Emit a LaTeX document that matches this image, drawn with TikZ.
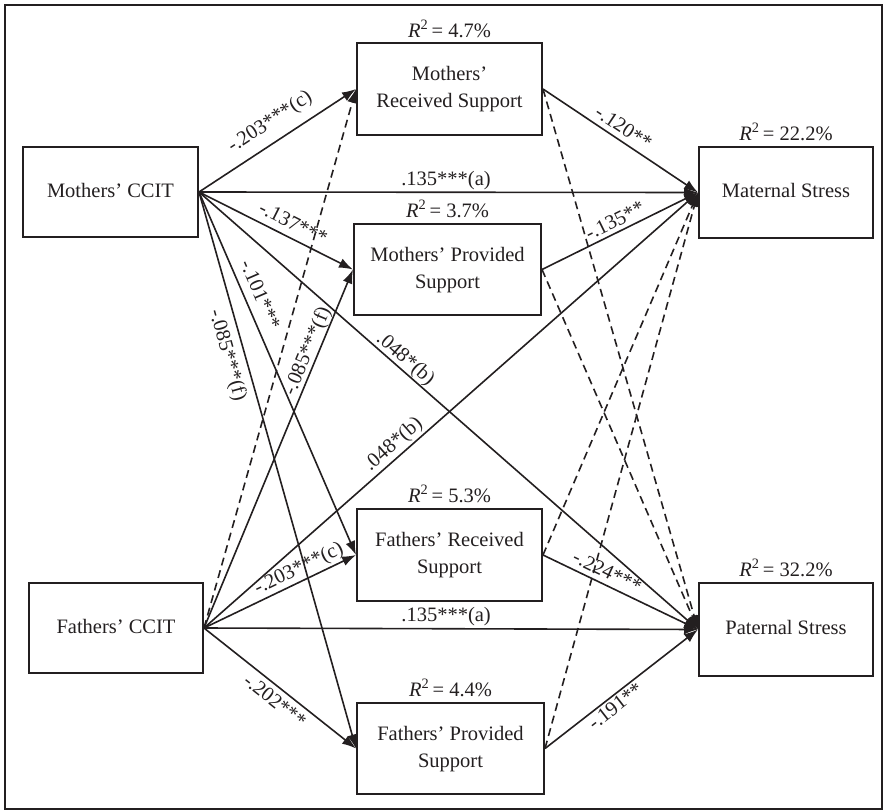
\documentclass[tikz,border=0pt]{standalone}
\usepackage{fontspec}
\setmainfont{Liberation Serif}
\usetikzlibrary{arrows.meta}
\definecolor{ink}{RGB}{35,31,32}
\newcommand{\bxt}[1]{\raisebox{7pt}{\begin{tabular}{@{}c@{}}#1\end{tabular}}}
\newcommand{\rsq}[1]{\textit{R}\textsuperscript{2}\,= #1\%}
\begin{document}
\begin{tikzpicture}[x=1pt,y=-1pt,
  every node/.style={font=\fontsize{20.5}{27}\selectfont, text=ink},
  box/.style={draw=ink, line width=2pt, rectangle, inner sep=0pt},
  edge/.style={draw=ink, line width=1.6pt, -{Latex[length=14pt,width=10pt]}},
  dsh/.style={edge, dash pattern=on 8pt off 5pt},
  lbl/.style={sloped, inner sep=2pt, font=\fontsize{20.5}{24}\selectfont},
  rtxt/.style={anchor=base}]
\useasboundingbox (0,0) rectangle (886,811);
\draw[ink, line width=1.6pt] (5,5) rectangle (882,809);

% boxes
\node[box, minimum width=175pt, minimum height=90pt] (mc) at (110.5,192) {\bxt{Mothers’ CCIT}};
\node[box, minimum width=174pt, minimum height=90pt] (fc) at (116,628) {\bxt{Fathers’ CCIT}};
\node[box, minimum width=185pt, minimum height=92pt] (mr) at (449.5,89) {\bxt{Mothers’\\Received Support}};
\node[box, minimum width=187pt, minimum height=91pt] (mp) at (447.5,269.5) {\bxt{Mothers’ Provided\\Support}};
\node[box, minimum width=185pt, minimum height=92pt] (fr) at (449.5,555) {\bxt{Fathers’ Received\\Support}};
\node[box, minimum width=187pt, minimum height=91pt] (fp) at (450.5,748.5) {\bxt{Fathers’ Provided\\Support}};
\node[box, minimum width=174pt, minimum height=91pt] (ms) at (786,192.5) {\bxt{Maternal Stress}};
\node[box, minimum width=174pt, minimum height=93pt] (ps) at (786,629.5) {\bxt{Paternal Stress}};

% R squared
\node[rtxt] (r2mr) at ([yshift=5pt]mr.north) {\rsq{4.7}};
\node[rtxt] (r2mp) at ([yshift=6pt]mp.north) {\rsq{3.7}};
\node[rtxt] (r2fr) at ([yshift=6pt]fr.north) {\rsq{5.3}};
\node[rtxt] (r2fp) at ([yshift=6pt]fp.north) {\rsq{4.4}};
\node[rtxt] (r2ms) at ([yshift=6pt]ms.north) {\rsq{22.2}};
\node[rtxt] (r2ps) at ([yshift=6pt]ps.north) {\rsq{32.2}};

% from Mothers' CCIT
\draw[edge] (mc.east) -- node[lbl, above=7pt, pos=0.52] {-.203***(c)} (mr.west);
\draw[edge] (mc.east) -- node[lbl, above, pos=0.495] {.135***(a)} (ms.west);
\draw[edge] (mc.east) -- node[lbl, above=5pt, pos=0.57] {-.137***} (mp.west);
\draw[edge] (mc.east) -- node[lbl, above=6pt, pos=0.30] {-.101***} (fr.west);
\draw[edge] (mc.east) -- node[lbl, above, inner sep=0pt, pos=0.40] {.048*(b)} (ps.west);
\draw[edge] (mc.east) -- node[lbl, below=5pt, pos=0.285] {-.085***(f)} (fp.west);

% from Fathers' CCIT
\draw[dsh] (fc.east) -- (mr.west);
\draw[edge] (fc.east) -- node[lbl, above, inner sep=0pt, pos=0.76] {-.085***(f)} (mp.west);
\draw[edge] (fc.east) -- node[lbl, above, pos=0.40] {.048*(b)} (ms.west);
\draw[edge] (fc.east) -- node[lbl, above, pos=0.66] {-.203***(c)} (fr.west);
\draw[edge] (fc.east) -- node[lbl, above, pos=0.49] {.135***(a)} (ps.west);
\draw[edge] (fc.east) -- node[lbl, below=3pt, pos=0.52] {-.202***} (fp.west);

% mediators to outcomes
\draw[edge] (mr.east) -- node[lbl, above=3pt, pos=0.475] {-.120**} (ms.west);
\draw[dsh] (mr.east) -- (ps.west);
\draw[edge] (mp.east) -- node[lbl, above=2pt, pos=0.50] {-.135**} (ms.west);
\draw[dsh] (mp.east) -- (ps.west);
\draw[dsh] (fr.east) -- (ms.west);
\draw[edge] (fr.east) -- node[lbl, above=3pt, pos=0.38] {-.224***} (ps.west);
\draw[dsh] (fp.east) -- (ms.west);
\draw[edge] (fp.east) -- node[lbl, below, pos=0.42] {-.191**} (ps.west);
\end{tikzpicture}
\end{document}
